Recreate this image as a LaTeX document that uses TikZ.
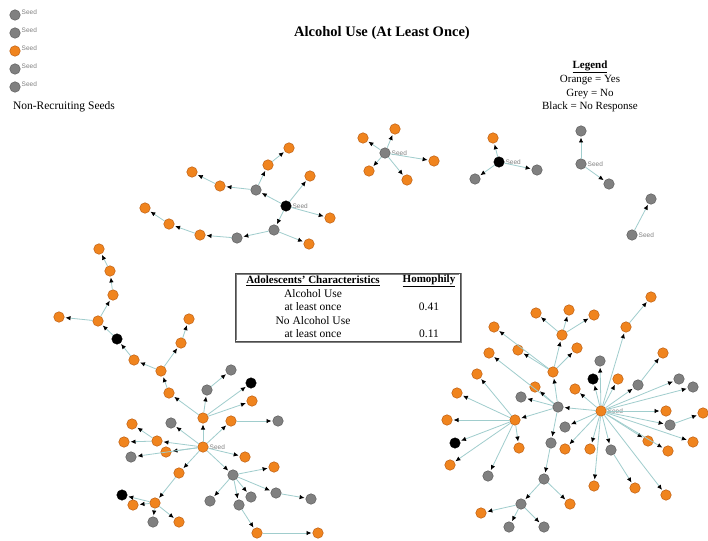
\documentclass[tikz,border=0pt]{standalone}
\usepackage{fontspec}
\setmainfont{Liberation Serif}
\newfontfamily\lblfont{Liberation Sans}
\usepackage{tikz}
\usetikzlibrary{arrows.meta,positioning}
\definecolor{orng}{RGB}{240,132,30}
\definecolor{orngd}{RGB}{190,95,20}
\definecolor{gryn}{RGB}{128,128,128}
\definecolor{grynd}{RGB}{95,95,95}
\definecolor{linkc}{RGB}{160,205,205}
\tikzset{
  yes/.style={circle,fill=orng,draw=orngd,line width=0.5pt,minimum size=10.5pt,inner sep=0pt},
  no/.style={circle,fill=gryn,draw=grynd,line width=0.5pt,minimum size=10.5pt,inner sep=0pt},
  nores/.style={circle,fill=black,draw=black,minimum size=10.5pt,inner sep=0pt},
  link/.style={draw=linkc,line width=0.8pt,-{Latex[length=5pt,width=4.5pt,black]},shorten >=1pt},
  seedlbl/.style={font=\lblfont\fontsize{6.5}{7}\selectfont,text=gray,inner sep=1pt},
  txt/.style={font=\fontsize{11}{12}\selectfont,inner sep=0pt}
}

\begin{document}
\begin{tikzpicture}[x=1pt,y=-1pt]
\useasboundingbox (0,0) rectangle (708,540);
\fill[white] (0,0) rectangle (708,540);

% titles and legends
\node[txt,font=\bfseries\fontsize{14.5}{16}\selectfont] (title) at (382,33) {Alcohol Use (At Least Once)};
\node[txt,font=\bfseries\fontsize{11}{12}\selectfont] (leg) at (590,67) {\underline{Legend}};
\node[txt] (leg1) at (590,80) {Orange = Yes};
\node[txt] (leg2) at (590,94) {Grey = No};
\node[txt] (leg3) at (590,107) {Black = No Response};

% non-recruiting seeds
\foreach \n/\y/\s in {s1/15/no,s2/33/no,s3/51/yes,s4/69/no,s5/87/no}{
  \node[\s] (\n) at (15,\y) {};
  \node[seedlbl,anchor=west] (\n l) at ([yshift=2.5pt]\n.east) {Seed};
}
\node[txt,font=\fontsize{11.5}{12}\selectfont] (nrs) at (64,107) {Non-Recruiting Seeds};

% table
\draw[gray,line width=1.6pt] (236,274) rectangle (461,342);
\draw[white,line width=0.3pt] (235.5,273.5) rectangle (459.5,340.5);
\draw[black!70,line width=0.4pt] (235,273) rectangle (460,341);
\node[txt,font=\bfseries\fontsize{11}{12}\selectfont] (th1) at (313,281) {\underline{Adolescents' Characteristics}};
\node[txt,font=\bfseries\fontsize{11}{12}\selectfont] (th2) at (429,281) {\underline{Homophily}};
\node[txt,font=\fontsize{11.5}{12}\selectfont] (tr1) at (313,294) {Alcohol Use};
\node[txt,font=\fontsize{11.5}{12}\selectfont] (tr2) at (313,307) {at least once};
\node[txt,font=\fontsize{11.5}{12}\selectfont] (tv1) at (429,307) {0.41};
\node[txt,font=\fontsize{11.5}{12}\selectfont] (tr3) at (313,321) {No Alcohol Use};
\node[txt,font=\fontsize{11.5}{12}\selectfont] (tr4) at (313,334) {at least once};
\node[txt,font=\fontsize{11.5}{12}\selectfont] (tv2) at (429,334) {0.11};

% nodes: Yes
\foreach \n/\x/\y in {a2/268/165,a3/289/148,a4/220/186,a5/192/172,a6/310/176,a7/330/218,a9/309/244,
  a11/200/235,a12/169/224,a13/145/208,
  b1/363/138,b2/395/129,b3/369/171,b4/407/180,b5/434/161,c1/493/138,
  l0/203/447,l1/203/418,l5/252/401,l6/169/393,l7/161/371,l8/134/360,l10/98/321,l11/113/295,
  l12/110/271,l13/99/249,l14/59/317,l15/181/343,l16/189/319,l17/231/421,l20/157/441,l21/132/424,
  l22/124/442,l23/166/452,l25/245/457,l26/179/473,l27/155/503,l28/133/505,l31/179/522,l33/274/467,
  l39/257/533,l40/318/533,
  r0/601/411,r1/626/327,r2/651/297,r5/618/379,r6/575/389,r8/663/353,r11/666/411,r13/703/413,
  r14/693/442,r15/648/441,r16/668/451,r17/666/495,r19/635/488,r20/594/486,r21/590/449,r22/565/449,
  r25/553/372,r26/562/335,r27/536/313,r28/569/310,r29/594/315,r30/577/348,r31/518/350,r32/494/327,
  r33/489/353,r34/535/387,r36/515/420,r37/447/420,r39/450/465,r41/519/448,r42/457/393,r43/477/374,
  r47/481/513,r50/570/504}
  \node[yes] (\n) at (\x,\y) {};

% nodes: No
\foreach \n/\x/\y in {a1/256/190,a8/274/230,a10/237/238,b0/385/153,c2/475/179,c3/537/170,
  d0/581/164,d1/581/131,d2/609/184,e0/632/235,e1/651/199,
  l2/207/390,l3/231/370,l18/278/421,l19/171/423,l24/131/457,l30/153/522,l32/233/475,l34/276/493,
  l35/311/499,l36/210/501,l37/251/497,l38/239/505,
  r3/600/361,r7/638/385,r9/679/379,r10/693/387,r12/670/425,r18/611/450,r23/565/427,r24/558/407,
  r35/521/397,r40/488/476,r44/551/443,r45/544/479,r46/521/504,r48/509/527,r49/544/527}
  \node[no] (\n) at (\x,\y) {};

% nodes: No Response
\foreach \n/\x/\y in {a0/286/206,c0/499/162,l4/251/383,l9/117/339,l29/122/495,r4/593/379,r38/455/443}
  \node[nores] (\n) at (\x,\y) {};

% seed labels
\foreach \n in {a0,b0,c0,d0,e0,l0,r0}
  \node[seedlbl,right=0pt of \n] (\n l) {Seed};

% referrals
\foreach \a/\b in {a0/a1,a1/a2,a2/a3,a1/a4,a4/a5,a0/a6,a0/a7,a0/a8,a8/a9,a8/a10,a10/a11,a11/a12,a12/a13,
  b0/b1,b0/b2,b0/b3,b0/b4,b0/b5,c0/c1,c0/c2,c0/c3,d0/d1,d0/d2,e0/e1,
  l0/l1,l1/l2,l2/l3,l1/l4,l1/l5,l1/l6,l6/l7,l7/l8,l8/l9,l9/l10,l10/l11,l11/l12,l12/l13,l10/l14,
  l7/l15,l15/l16,l0/l17,l17/l18,l0/l19,l0/l20,l20/l21,l20/l22,l0/l23,l0/l24,l0/l25,l0/l26,
  l26/l27,l27/l28,l27/l29,l27/l30,l27/l31,l0/l32,l32/l33,l32/l34,l34/l35,l32/l36,l32/l37,l32/l38,
  l38/l39,l39/l40,
  r0/r1,r1/r2,r0/r3,r0/r4,r0/r5,r0/r6,r0/r7,r7/r8,r0/r9,r0/r10,r0/r11,r0/r12,r12/r13,r0/r14,
  r0/r15,r0/r16,r0/r17,r0/r18,r18/r19,r0/r20,r0/r21,r0/r22,r0/r23,r0/r24,r24/r25,r25/r26,
  r26/r27,r26/r28,r26/r29,r25/r30,r25/r31,r25/r32,r24/r33,r24/r34,r24/r35,r24/r36,r36/r37,
  r36/r38,r36/r39,r36/r40,r36/r41,r36/r42,r36/r43,r24/r44,r44/r45,r45/r46,r46/r47,r46/r48,
  r46/r49,r45/r50}
  \draw[link] (\a) -- (\b);

\end{tikzpicture}
\end{document}
